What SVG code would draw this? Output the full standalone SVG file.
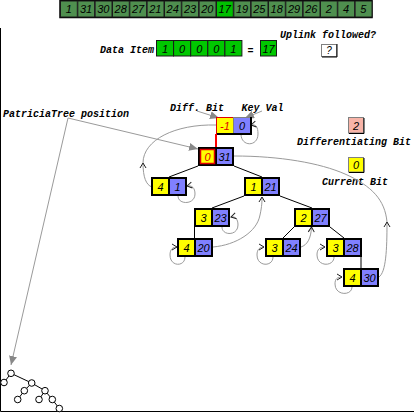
<svg xmlns="http://www.w3.org/2000/svg" width="414" height="413" viewBox="0 0 414 413">
<style>
.lbl{font-family:"Liberation Mono",monospace;font-size:10px;font-style:italic;font-weight:bold;fill:#000}
.num{font-family:"Liberation Sans",Arial,sans-serif;font-size:11px;font-style:italic;fill:#000;text-anchor:middle}
.red{fill:#e00000}
.bar{fill:#4f8f4f;stroke:#1a1a1a;stroke-width:1}
.hi{fill:#00c000}
.dat{fill:#00c800;stroke:#1a1a1a;stroke-width:1}
.ny{fill:#ffff00;stroke:#000;stroke-width:2}
.nb{fill:#8080ff;stroke:#000;stroke-width:2}
.edge{stroke:#000;stroke-width:1;fill:none}
.up{stroke:#9a9a9a;stroke-width:1;fill:none}
.lab{stroke:#9a9a9a;stroke-width:1;fill:none}
.mini{fill:#fff;stroke:#000;stroke-width:1}
</style>
<defs>
<marker id="chev" viewBox="0 0 8 8" refX="7" refY="4" markerWidth="8" markerHeight="8" markerUnits="userSpaceOnUse" orient="auto">
<path d="M2,1 L7,4 L2,7" fill="none" stroke="#222" stroke-width="1"/>
</marker>
<marker id="tri" viewBox="0 0 9 8" refX="9" refY="4" markerWidth="9" markerHeight="8" markerUnits="userSpaceOnUse" orient="auto">
<path d="M0,0 L9,4 L0,8 z" fill="#888"/>
</marker>
</defs>

<!-- frame -->
<path d="M0.5,28 V411.5 H414" fill="none" stroke="#000" stroke-width="1"/>

<!-- top bar -->
<g id="keybar">
<rect x="60" y="0.5" width="312" height="17" fill="none" stroke="#000" stroke-width="1.5"/>
<rect class="bar" x="60.5" y="1" width="16.8" height="16"/>
<rect class="bar" x="77.8" y="1" width="16.8" height="16"/>
<rect class="bar" x="95.2" y="1" width="16.8" height="16"/>
<rect class="bar" x="112.5" y="1" width="16.8" height="16"/>
<rect class="bar" x="129.8" y="1" width="16.8" height="16"/>
<rect class="bar" x="147.2" y="1" width="16.8" height="16"/>
<rect class="bar" x="164.5" y="1" width="16.8" height="16"/>
<rect class="bar" x="181.8" y="1" width="16.8" height="16"/>
<rect class="bar" x="199.2" y="1" width="16.8" height="16"/>
<rect class="bar hi" x="216.5" y="1" width="16.8" height="16"/>
<rect class="bar" x="233.8" y="1" width="16.8" height="16"/>
<rect class="bar" x="251.2" y="1" width="16.8" height="16"/>
<rect class="bar" x="268.5" y="1" width="16.8" height="16"/>
<rect class="bar" x="285.8" y="1" width="16.8" height="16"/>
<rect class="bar" x="303.2" y="1" width="16.8" height="16"/>
<rect class="bar" x="320.5" y="1" width="16.8" height="16"/>
<rect class="bar" x="337.8" y="1" width="16.8" height="16"/>
<rect class="bar" x="355.2" y="1" width="16.8" height="16"/>
<text class="num" x="68.7" y="13">1</text>
<text class="num" x="86" y="13">31</text>
<text class="num" x="103.3" y="13">30</text>
<text class="num" x="120.7" y="13">28</text>
<text class="num" x="138" y="13">27</text>
<text class="num" x="155.3" y="13">21</text>
<text class="num" x="172.7" y="13">24</text>
<text class="num" x="190" y="13">23</text>
<text class="num" x="207.3" y="13">20</text>
<text class="num" x="224.7" y="13">17</text>
<text class="num" x="242" y="13">19</text>
<text class="num" x="259.3" y="13">25</text>
<text class="num" x="276.7" y="13">18</text>
<text class="num" x="294" y="13">29</text>
<text class="num" x="311.3" y="13">26</text>
<text class="num" x="328.7" y="13">2</text>
<text class="num" x="346" y="13">4</text>
<text class="num" x="363.3" y="13">5</text>
</g>

<!-- uplink followed -->
<g id="uplink">
<text class="lbl" x="280" y="38">Uplink followed?</text>
<rect x="321.5" y="44.5" width="15" height="12" fill="#fff" stroke="#808080" stroke-width="1"/>
<path d="M322,57 H337 V44" fill="none" stroke="#000" stroke-width="1"/>
<text class="num" x="329" y="54" style="font-size:10px">?</text>
</g>

<!-- data item -->
<g id="dataitem">
<text class="lbl" x="100" y="53">Data Item</text>
<rect class="dat" x="156.5" y="40.5" width="17" height="15.5"/>
<rect class="dat" x="173.6" y="40.5" width="17" height="15.5"/>
<rect class="dat" x="190.7" y="40.5" width="17" height="15.5"/>
<rect class="dat" x="207.8" y="40.5" width="17" height="15.5"/>
<rect class="dat" x="224.9" y="40.5" width="17" height="15.5"/>
<text class="num" x="165" y="52.5">1</text>
<text class="num" x="182.1" y="52.5">0</text>
<text class="num" x="199.2" y="52.5">0</text>
<text class="num" x="216.3" y="52.5">0</text>
<text class="num" x="233.4" y="52.5">1</text>
<text class="lbl" x="250.5" y="54" text-anchor="middle">=</text>
<rect class="dat" x="260.5" y="40.5" width="16" height="15.5"/>
<text class="num" x="268.5" y="52.5">17</text>
</g>

<!-- legend -->
<g id="legend-diff">
<rect x="348.5" y="117.5" width="15" height="15.5" fill="#f8b4a8" stroke="#808080" stroke-width="1"/>
<path d="M349,133.5 H364 V118" fill="none" stroke="#000" stroke-width="1"/>
<text class="num" x="356" y="129.5">2</text>
<text class="lbl" x="297" y="145">Differentiating Bit</text>
</g>
<g id="legend-cur">
<rect x="348.5" y="157.5" width="15" height="14.5" fill="#ffff00" stroke="#808080" stroke-width="1"/>
<path d="M349,172.5 H364 V158" fill="none" stroke="#000" stroke-width="1"/>
<text class="num" x="356" y="169">0</text>
<text class="lbl" x="322" y="185">Current Bit</text>
</g>

<!-- connectors -->
<g id="connectors">
<!-- tree edges -->
<path class="edge" d="M198,166 L169,177"/>
<path class="edge" d="M234,166 L262,177"/>
<path class="edge" d="M244,196 L212,208"/>
<path class="edge" d="M280,196 L312,208"/>
<path class="edge" d="M194.5,227 L194.5,238"/>
<path class="edge" d="M294,227 L283,238"/>
<path class="edge" d="M330,227 L344,238"/>
<path class="edge" d="M361,257 L361,268"/>
<path d="M216,134 L216,147" stroke="#ff0000" stroke-width="2" fill="none"/>
<!-- uplinks -->
<path class="up" marker-end="url(#chev)" d="M241,134 C241,147 258,147 258,134 C258,127 256,124 251,125"/>
<path class="up" marker-end="url(#chev)" d="M178,196 C178,205 195,205 195,194 C195,188 192,185 187,186"/>
<path class="up" marker-end="url(#chev)" d="M222,227 C222,236 238,236 238,225 C238,219 235,216 231,217"/>
<path class="up" marker-end="url(#chev)" d="M213,247 C236,245 257,232 260,215 C262,206 262,201 262,197"/>
<path class="up" marker-end="url(#chev)" d="M185,257 C185,267 170,267 170,255 C170,249 173,247 177,247"/>
<path class="up" marker-end="url(#chev)" d="M301,247 C307,245 311,239 311.5,227"/>
<path class="up" marker-end="url(#chev)" d="M273,257 C273,267 257,267 257,255 C257,249 260,247 264,247"/>
<path class="up" marker-end="url(#chev)" d="M334,257 C334,267 317,267 317,255 C317,249 320,247 325,247"/>
<path class="up" marker-end="url(#chev)" d="M352,287 C352,296 335,296 335,284 C335,279 337,277 342,277"/>
<path class="up" marker-end="url(#chev)" d="M379,277 C386,272 387,250 387,222"/>
<path class="up" d="M387,222 C385,200 372,186 345,174 C320,163 280,156 234,156"/>
<path class="up" marker-end="url(#chev)" d="M152,187 C146,185 143,177 143,163"/>
<path class="up" d="M143,163 C143,140 175,124 216,125"/>
<!-- label pointers -->
<path class="lab" marker-end="url(#tri)" d="M68,118 L198,149"/>
<path class="lab" marker-end="url(#tri)" d="M68,118 L11,365"/>
<path class="lab" marker-end="url(#tri)" d="M197,111 L219,118"/>
<path class="lab" marker-end="url(#tri)" d="M262,111 L245,118"/>
</g>

<!-- labels -->
<text class="lbl" x="3" y="116.5">PatriciaTree position</text>
<text class="lbl" x="170" y="111">Diff. Bit</text>
<text class="lbl" x="241.5" y="111">Key Val</text>

<!-- root header node -->
<g id="node-root">
<rect x="216.5" y="117.5" width="17" height="16" fill="#ffff00" stroke="#e00000" stroke-width="1"/>
<rect x="233.5" y="117.5" width="17" height="16" fill="#8080ff" stroke="#808080" stroke-width="1"/>
<path d="M217,134 H251 V117" fill="none" stroke="#000" stroke-width="2"/>
<text class="num red" x="225" y="130">-1</text>
<text class="num" x="242" y="130">0</text>
</g>

<g id="node-0-31" transform="translate(198,147)">
<rect class="ny" x="1" y="1" width="17" height="17"/>
<rect class="nb" x="18" y="1" width="17" height="17"/>
<rect x="2.5" y="2.5" width="14" height="14" fill="none" stroke="#e00000" stroke-width="1.5"/>
<text class="num red" x="9.5" y="14">0</text>
<text class="num" x="26.5" y="14">31</text>
</g>
<g id="node-4-1" transform="translate(151,177)">
<rect class="ny" x="1" y="1" width="17" height="17"/>
<rect class="nb" x="18" y="1" width="17" height="17"/>
<text class="num" x="9.5" y="14">4</text>
<text class="num" x="26.5" y="14">1</text>
</g>
<g id="node-1-21" transform="translate(244,177)">
<rect class="ny" x="1" y="1" width="17" height="17"/>
<rect class="nb" x="18" y="1" width="17" height="17"/>
<text class="num" x="9.5" y="14">1</text>
<text class="num" x="26.5" y="14">21</text>
</g>
<g id="node-3-23" transform="translate(194,208)">
<rect class="ny" x="1" y="1" width="17" height="17"/>
<rect class="nb" x="18" y="1" width="17" height="17"/>
<text class="num" x="9.5" y="14">3</text>
<text class="num" x="26.5" y="14">23</text>
</g>
<g id="node-2-27" transform="translate(294,208)">
<rect class="ny" x="1" y="1" width="17" height="17"/>
<rect class="nb" x="18" y="1" width="17" height="17"/>
<text class="num" x="9.5" y="14">2</text>
<text class="num" x="26.5" y="14">27</text>
</g>
<g id="node-4-20" transform="translate(177,238)">
<rect class="ny" x="1" y="1" width="17" height="17"/>
<rect class="nb" x="18" y="1" width="17" height="17"/>
<text class="num" x="9.5" y="14">4</text>
<text class="num" x="26.5" y="14">20</text>
</g>
<g id="node-3-24" transform="translate(265,238)">
<rect class="ny" x="1" y="1" width="17" height="17"/>
<rect class="nb" x="18" y="1" width="17" height="17"/>
<text class="num" x="9.5" y="14">3</text>
<text class="num" x="26.5" y="14">24</text>
</g>
<g id="node-3-28" transform="translate(326,238)">
<rect class="ny" x="1" y="1" width="17" height="17"/>
<rect class="nb" x="18" y="1" width="17" height="17"/>
<text class="num" x="9.5" y="14">3</text>
<text class="num" x="26.5" y="14">28</text>
</g>
<g id="node-4-30" transform="translate(343,268)">
<rect class="ny" x="1" y="1" width="17" height="17"/>
<rect class="nb" x="18" y="1" width="17" height="17"/>
<text class="num" x="9.5" y="14">4</text>
<text class="num" x="26.5" y="14">30</text>
</g>

<!-- mini tree -->
<g id="minitree">
<path class="edge" d="M11,373.3 L4,382.5 M11,373.3 L31.7,383 M31.7,383 L24.3,390.7 M31.7,383 L45,390.7 M24.3,390.7 L17.7,399.5 M45,390.7 L39,399.5 M45,390.7 L52.3,399.5 M52.3,399.5 L59.3,408.5"/>
<circle class="mini" cx="11" cy="373.3" r="3.3"/>
<circle class="mini" cx="4" cy="382.5" r="3.3"/>
<circle class="mini" cx="31.7" cy="383" r="3.3"/>
<circle class="mini" cx="24.3" cy="390.7" r="3.3"/>
<circle class="mini" cx="45" cy="390.7" r="3.3"/>
<circle class="mini" cx="17.7" cy="399.5" r="3.3"/>
<circle class="mini" cx="39" cy="399.5" r="3.3"/>
<circle class="mini" cx="52.3" cy="399.5" r="3.3"/>
<circle class="mini" cx="59.3" cy="408.5" r="3.3"/>
</g>
</svg>
